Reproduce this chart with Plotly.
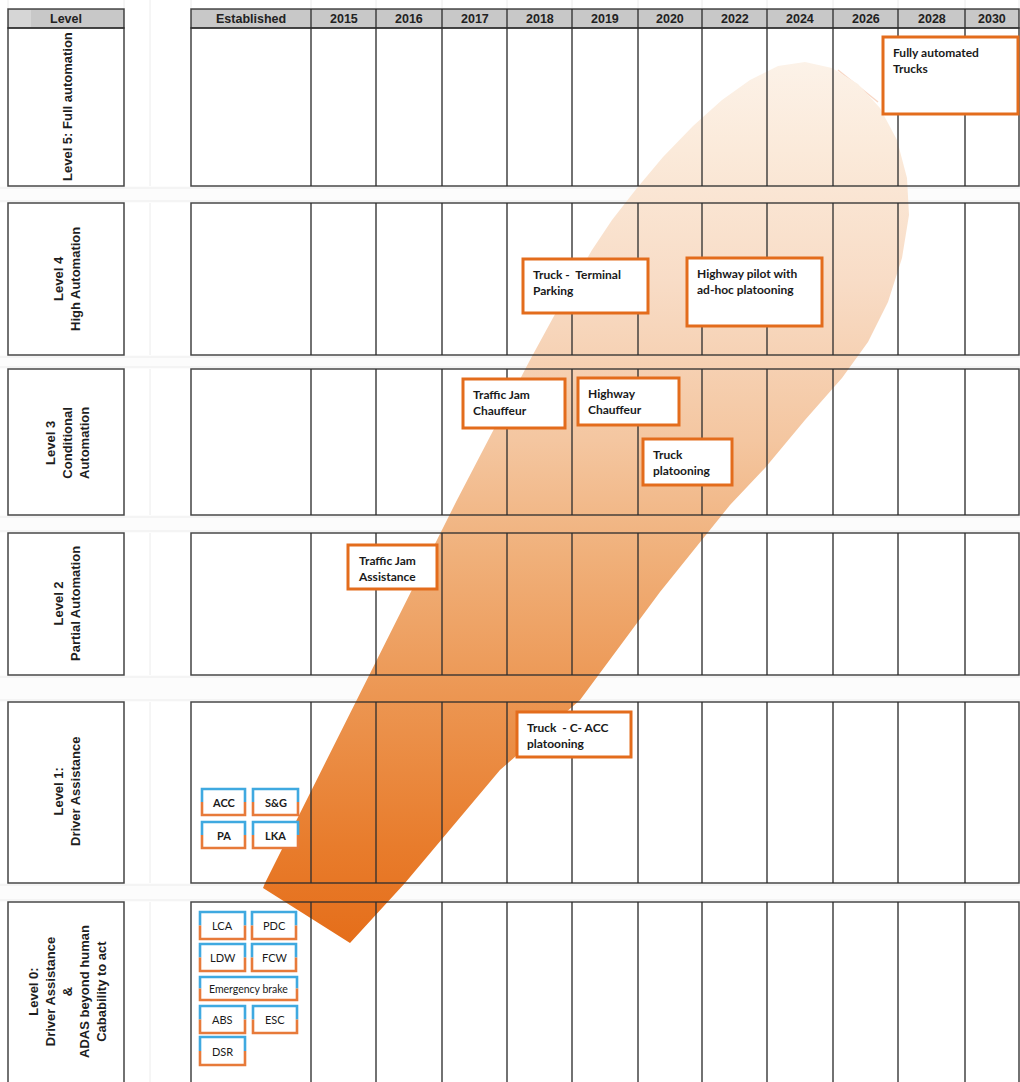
import plotly.graph_objects as go

# ---------------- DATA ----------------
COLUMNS = ["Established", "2015", "2016", "2017", "2018", "2019", "2020",
           "2022", "2024", "2026", "2028", "2030"]

LEVELS = [5, 4, 3, 2, 1, 0]
LEVEL_NAMES = [
    "Level 5: Full automation",
    "Level 4<br>High Automation",
    "Level 3<br>Conditional<br>Automation",
    "Level 2<br>Partial Automation",
    "Level 1:<br>Driver Assistance",
    "Level 0:<br>Driver Assistance<br>&<br>ADAS beyond human<br>Cabability to act",
]

MILESTONE_TEXT = [
    "Fully automated<br>Trucks",
    "Truck -  Terminal<br>Parking",
    "Highway pilot with<br>ad-hoc platooning",
    "Traffic Jam<br>Chauffeur",
    "Highway<br>Chauffeur",
    "Truck<br>platooning",
    "Traffic Jam<br>Assistance",
    "Truck  - C- ACC<br>platooning",
]
MILESTONE_LEVEL = [5, 4, 4, 3, 3, 3, 2, 1]
MILESTONE_YEAR = ["2028", "2018", "2022", "2017", "2019", "2020", "2016", "2018"]

ADAS_L1 = ["ACC", "S&G", "PA", "LKA"]
ADAS_L0 = ["LCA", "PDC", "LDW", "FCW", "Emergency brake", "ABS", "ESC", "DSR"]

# ---------------- GEOMETRY (pixel layout) ----------------
COL_EDGES = [191, 311, 376, 442, 507, 572, 638, 702, 767, 833, 898, 965, 1019]
HEADER_Y = (9, 28)
LEVEL_CELL_X = (8, 124)
ROW_SPANS = [(28, 186), (203, 355), (369, 515), (533, 675), (702, 883), (902, 1100)]
LABEL_CENTER_Y = [107, 279, 443, 604, 792, 992]

MILESTONE_BOX = [
    (883, 37, 1018, 114),
    (523, 259, 648, 313),
    (687, 258, 822, 326),
    (463, 379, 565, 428),
    (578, 378, 679, 425),
    (643, 439, 732, 485),
    (348, 545, 437, 589),
    (517, 712, 631, 757),
]
ADAS_L1_BOX = [(202, 789, 245, 815), (253, 789, 298, 815),
               (202, 822, 245, 848), (253, 822, 298, 848)]
ADAS_L0_BOX = [(200, 912, 245, 939), (252, 912, 296, 939),
               (200, 944, 245, 971), (252, 944, 296, 971),
               (200, 977, 297, 1000),
               (200, 1006, 245, 1033), (253, 1006, 297, 1033),
               (200, 1037, 245, 1065)]

BLOB_OUTLINE = [
    (263, 888), (350, 943), (405, 883), (500, 770), (580, 700), (660, 592),
    (730, 505), (765, 468), (805, 420), (842, 378), (868, 342), (888, 302),
    (902, 258), (909, 215), (907, 178), (897, 140), (880, 108), (858, 84),
    (832, 68), (805, 62), (778, 66), (750, 80), (722, 100), (693, 126),
    (663, 157), (637, 188), (612, 220), (592, 250), (560, 305), (530, 360),
    (457, 500), (442, 530), (322, 770), (265, 883),
]

ORANGE = "#e36c1c"
BLUE = "#3fa9e0"
DARK = "rgba(45,45,45,0.88)"
FAINT = "#ececec"

fig = go.Figure()

shapes = []
annotations = []

# faint spreadsheet grid (below everything)
for x in COL_EDGES + [124, 150, 8]:
    shapes.append(dict(type="line", x0=x, x1=x, y0=0, y1=1082, layer="below",
                       line=dict(color=FAINT, width=1)))
for (a, b), (c, d) in zip(ROW_SPANS[:-1], ROW_SPANS[1:]):
    shapes.append(dict(type="rect", x0=0, x1=1020, y0=b, y1=c, layer="below",
                       fillcolor="#fcfcfc", line=dict(width=0)))
    for yy in (b + 2, c - 2):
        shapes.append(dict(type="line", x0=0, x1=1020, y0=yy, y1=yy, layer="below",
                           line=dict(color=FAINT, width=1)))

# gradient blob (arrow)
fig.add_trace(go.Scatter(
    x=[p[0] for p in BLOB_OUTLINE], y=[p[1] for p in BLOB_OUTLINE],
    mode="lines", fill="toself", line=dict(width=0, color="rgba(0,0,0,0)"),
    fillgradient=dict(
        type="vertical", start=62, stop=943,
        colorscale=[[0, "rgb(252,242,232)"], [0.1, "rgb(251,234,218)"],
                    [0.25, "rgb(248,220,198)"], [0.43, "rgb(244,198,160)"],
                    [0.56, "rgb(240,176,122)"], [0.72, "rgb(236,150,82)"],
                    [0.89, "rgb(232,124,44)"], [1, "rgb(229,110,26)"]]),
    hoverinfo="skip", showlegend=False))

# faint edge streak near the blob tip
shapes.append(dict(type="line", x0=838, y0=70, x1=878, y1=102, layer="below",
                   line=dict(color="rgba(232,140,90,0.35)", width=1.5)))

# header
shapes.append(dict(type="rect", x0=LEVEL_CELL_X[0], x1=LEVEL_CELL_X[1],
                   y0=HEADER_Y[0], y1=HEADER_Y[1], layer="above",
                   fillcolor="#c8c8c8", line=dict(color=DARK, width=1.5)))
shapes.append(dict(type="rect", x0=LEVEL_CELL_X[0] + 1, x1=31,
                   y0=HEADER_Y[0] + 1, y1=HEADER_Y[1] - 1, layer="above",
                   fillcolor="#d6d6d6", line=dict(width=0)))
shapes.append(dict(type="rect", x0=COL_EDGES[0], x1=COL_EDGES[-1],
                   y0=HEADER_Y[0], y1=HEADER_Y[1], layer="above",
                   fillcolor="#c8c8c8", line=dict(color=DARK, width=1.5)))
for x in COL_EDGES[1:-1]:
    shapes.append(dict(type="line", x0=x, x1=x, y0=HEADER_Y[0], y1=HEADER_Y[1],
                       layer="above", line=dict(color=DARK, width=1.5)))
annotations.append(dict(x=sum(LEVEL_CELL_X) / 2, y=sum(HEADER_Y) / 2, text="<b>Level</b>",
                        showarrow=False, font=dict(family="Liberation Sans", size=12.5,
                                                   color="#222")))
for i, c in enumerate(COLUMNS):
    annotations.append(dict(x=(COL_EDGES[i] + COL_EDGES[i + 1]) / 2,
                            y=sum(HEADER_Y) / 2, text="<b>%s</b>" % c, showarrow=False,
                            font=dict(family="Liberation Sans", size=12.5, color="#222")))

# level rows
for (y0, y1), name, cy in zip(ROW_SPANS, LEVEL_NAMES, LABEL_CENTER_Y):
    shapes.append(dict(type="rect", x0=LEVEL_CELL_X[0], x1=LEVEL_CELL_X[1], y0=y0, y1=y1,
                       layer="above", line=dict(color=DARK, width=1.5)))
    shapes.append(dict(type="rect", x0=COL_EDGES[0], x1=COL_EDGES[-1], y0=y0, y1=y1,
                       layer="above", line=dict(color=DARK, width=1.5)))
    for x in COL_EDGES[1:-1]:
        shapes.append(dict(type="line", x0=x, x1=x, y0=y0, y1=y1, layer="above",
                           line=dict(color=DARK, width=1.5)))
    annotations.append(dict(x=sum(LEVEL_CELL_X) / 2 + 1, y=cy, text="<b>%s</b>" % name,
                            textangle=-90, showarrow=False,
                            font=dict(family="Liberation Sans", size=13, color="#1e1e1e")))

# milestone boxes
for (x0, y0, x1, y1), txt in zip(MILESTONE_BOX, MILESTONE_TEXT):
    shapes.append(dict(type="rect", x0=x0, x1=x1, y0=y0, y1=y1, layer="above",
                       fillcolor="white", line=dict(color=ORANGE, width=3)))
    annotations.append(dict(x=x0 + 8, y=y0 + 6, text="<b>%s</b>" % txt, showarrow=False,
                            xanchor="left", yanchor="top", align="left",
                            font=dict(family="Lato", size=12, color="#1a1a1a")))


def adas_box(box, txt, bold, size):
    x0, y0, x1, y1 = box
    ym = (y0 + y1) / 2
    shapes.append(dict(type="rect", x0=x0, x1=x1, y0=y0, y1=y1, layer="above",
                       fillcolor="white", line=dict(width=0)))
    shapes.append(dict(type="path", path="M %s %s L %s %s L %s %s L %s %s" %
                       (x0, ym, x0, y0, x1, y0, x1, ym), layer="above",
                       line=dict(color=BLUE, width=2.6)))
    shapes.append(dict(type="path", path="M %s %s L %s %s L %s %s L %s %s" %
                       (x0, ym, x0, y1, x1, y1, x1, ym), layer="above",
                       line=dict(color="#e77a3a", width=2.6)))
    t = "<b>%s</b>" % txt if bold else txt
    annotations.append(dict(x=(x0 + x1) / 2, y=ym, text=t, showarrow=False,
                            font=dict(family="Lato", size=size, color="#1a1a1a")))


for box, txt in zip(ADAS_L1_BOX, ADAS_L1):
    adas_box(box, txt, True, 11)
for box, txt in zip(ADAS_L0_BOX, ADAS_L0):
    adas_box(box, txt, False, 10.5 if len(txt) > 4 else 11)

fig.update_layout(
    width=1020, height=1082, margin=dict(l=0, r=0, t=0, b=0),
    paper_bgcolor="white", plot_bgcolor="white",
    xaxis=dict(range=[0, 1020], visible=False, fixedrange=True),
    yaxis=dict(range=[1082, 0], visible=False, fixedrange=True),
    shapes=shapes, annotations=annotations, showlegend=False,
)

fig.write_html("out.html")
